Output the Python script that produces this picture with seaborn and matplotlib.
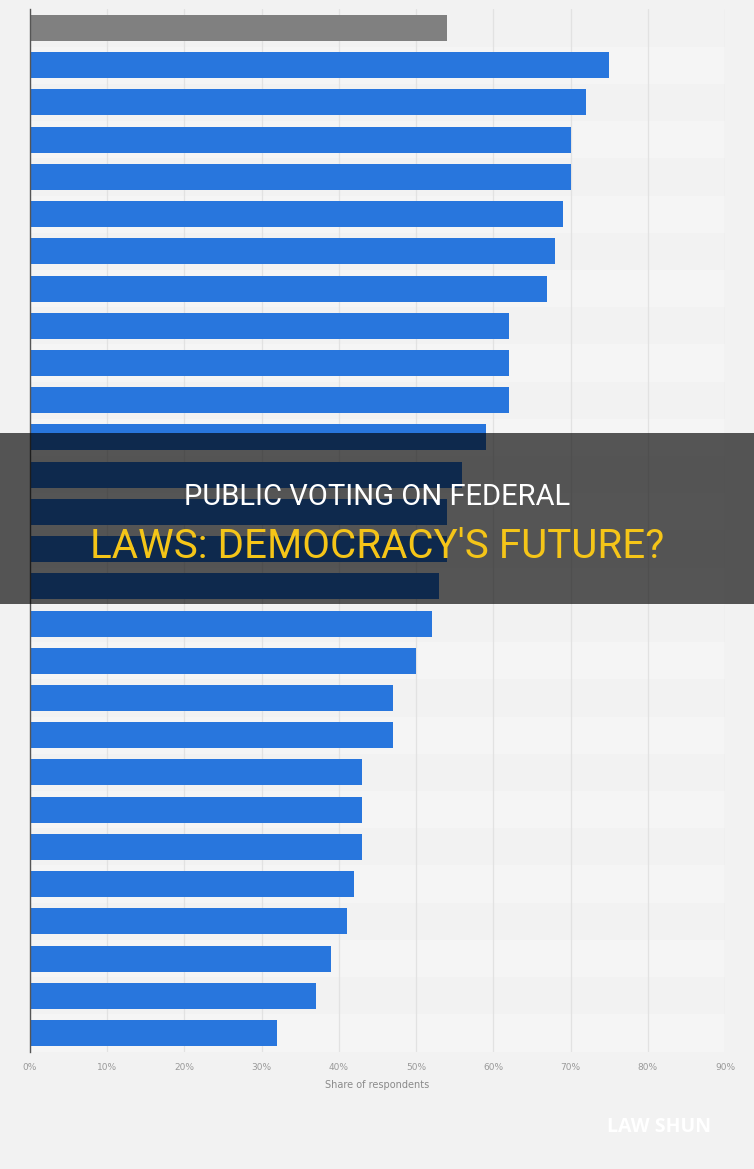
import seaborn as sns
import pandas as pd
import matplotlib.pyplot as plt
from matplotlib.patches import Rectangle

# Valores (porcentaje de encuestados), de arriba a abajo
rows = [f"Row {i + 1}" for i in range(28)]
shares = [54, 75, 72, 70, 70, 69, 68, 67, 62, 62, 62, 59, 56, 54, 54,
          53, 52, 50, 47, 47, 43, 43, 43, 42, 41, 39, 37, 32]
groups = ["total"] + ["country"] * 27
tick_values = [0, 10, 20, 30, 40, 50, 60, 70, 80, 90]
tick_labels = [f"{v}%" for v in tick_values]
title_line1 = "PUBLIC VOTING ON FEDERAL"
title_line2 = "LAWS: DEMOCRACY'S FUTURE?"

df = pd.DataFrame({"row": rows, "share": shares, "group": groups})

sns.set_style("white")
bg = "#f2f2f2"
fig = plt.figure(figsize=(7.54, 11.69), dpi=100, facecolor=bg)
ax = fig.add_axes([30 / 754, 1 - 1051.6 / 1169, 695 / 754, 1042.2 / 1169])
ax.set_facecolor(bg)

# bandas alternas muy suaves
for i in range(len(rows)):
    if i % 2 == 1:
        ax.axhspan(i - 0.5, i + 0.5, color="#f5f5f5", zorder=0, lw=0)

sns.barplot(data=df, y="row", x="share", hue="group",
            palette={"total": "#808080", "country": "#2876dd"},
            orient="h", width=0.7, legend=False, ax=ax, zorder=3,
            saturation=1, linewidth=0, edgecolor="none")

ax.set_xlim(0, 90)
ax.set_xticks(tick_values)
ax.set_xticklabels(tick_labels, fontsize=6.5, color="#9a9a9a")
ax.tick_params(axis="x", length=0, pad=8)
ax.set_yticks([])
ax.set_ylabel("")
ax.set_xlabel("Share of respondents", fontsize=7, color="#8a8a8a", labelpad=6)
ax.grid(axis="x", color="#e2e2e2", lw=0.9, zorder=1)
ax.set_axisbelow(True)
for s in ["top", "right", "bottom"]:
    ax.spines[s].set_visible(False)
ax.spines["left"].set_color("#555555")
ax.spines["left"].set_linewidth(1)
ax.spines["left"].set_zorder(5)

# banda oscura con el titulo
fig.patches.append(Rectangle((0, 1 - 604 / 1169), 1, 171 / 1169,
                             transform=fig.transFigure, facecolor="black",
                             edgecolor="none", lw=0, alpha=0.65, zorder=10))
fonts = ["Roboto", "DejaVu Sans"]
fig.text(0.5, 1 - 497 / 1169, title_line1, ha="center", va="center",
         fontsize=21, color="white", family=fonts, zorder=11)
fig.text(0.5, 1 - 547 / 1169, title_line2, ha="center", va="center",
         fontsize=29, color="#f5c518", family=fonts, zorder=11)

fig.text(659 / 754, 1 - 1127 / 1169, "LAW SHUN", ha="center", va="center",
         fontsize=14, color="white", fontweight="bold",
         family=["Open Sans", "DejaVu Sans"])

fig.savefig("out.png", dpi=100, facecolor=bg)
